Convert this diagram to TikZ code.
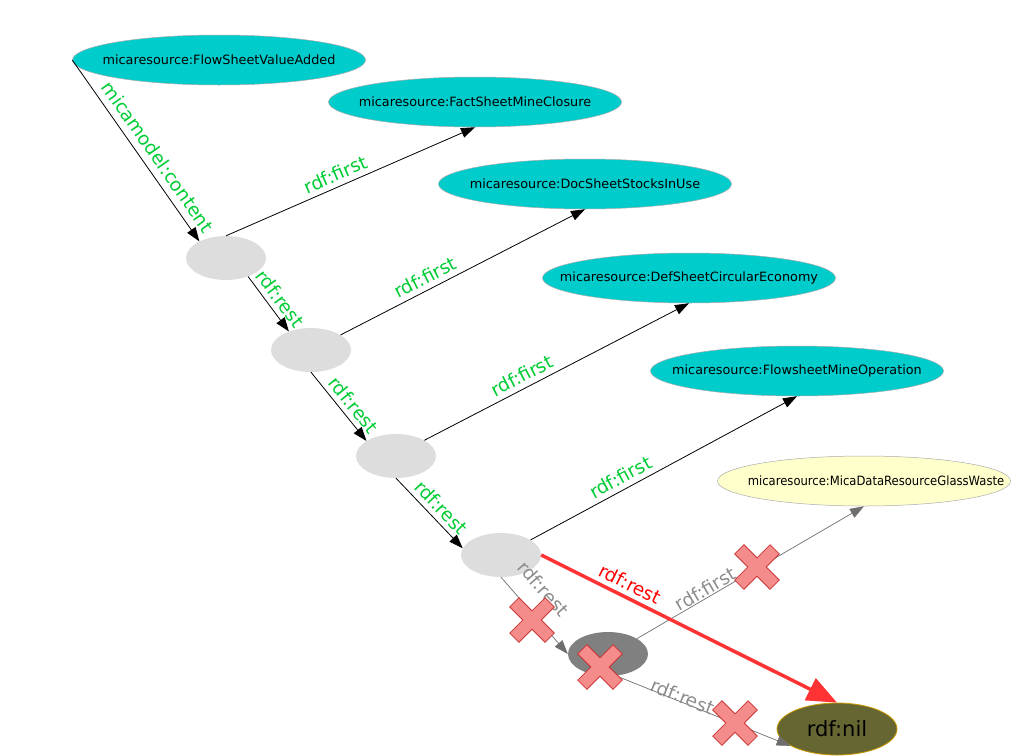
\documentclass[tikz,border=0pt]{standalone}
\usepackage{graphicx}
\usepackage{fontspec}
\setmainfont{DejaVu Sans}
\usetikzlibrary{arrows.meta,shapes.geometric}
\definecolor{tealc}{RGB}{0,204,204}
\definecolor{lgray}{RGB}{221,221,221}
\definecolor{dgray}{RGB}{128,128,128}
\definecolor{lyellow}{RGB}{255,255,204}
\definecolor{olivec}{RGB}{102,102,51}
\definecolor{goldc}{RGB}{204,153,0}
\definecolor{greenc}{RGB}{0,204,51}
\definecolor{grayc}{RGB}{110,110,110}
\definecolor{graytext}{RGB}{140,140,140}
\definecolor{redline}{RGB}{255,51,51}
\definecolor{crossfill}{RGB}{244,140,140}
\definecolor{crossdraw}{RGB}{204,51,51}
\newcommand{\zb}[1]{\makebox[0pt]{#1}}
\begin{document}
\begin{tikzpicture}[x=1pt,y=-1pt,
  every node/.style={font=\fontsize{12.8}{15}\selectfont},
  res/.style={ellipse, draw={rgb,255:red,170;green,170;blue,170}, line width=0.5pt, fill=tealc,
    minimum width=293pt, minimum height=50pt, inner sep=0pt},
  blank/.style={ellipse, fill=lgray, minimum width=80pt, minimum height=44pt, inner sep=0pt},
  lbl/.style={font=\fontsize{18.5}{22}\selectfont, sloped, above, inner sep=5pt},
  glbl/.style={lbl, text=greenc},
  rlbl/.style={lbl, text=red},
  ylbl/.style={lbl, text=graytext},
  edge/.style={draw=black, line width=0.8pt, -{Triangle[length=14pt,width=10pt]}},
  gedge/.style={draw=grayc, line width=0.7pt, -{Triangle[length=14pt,width=10pt]}},
  redge/.style={draw=redline, line width=3.5pt, -{Triangle[length=30pt,width=24pt]}},
  xcross/.pic={\filldraw[fill=crossfill, draw=crossdraw, line width=0.8pt, rotate=45]
    (6.5,6.5) -- (25,6.5) -- (25,-6.5) -- (6.5,-6.5) -- (6.5,-25) -- (-6.5,-25) -- (-6.5,-6.5) -- (-25,-6.5)
    -- (-25,6.5) -- (-6.5,6.5) -- (-6.5,25) -- (6.5,25) -- cycle;}
]
\useasboundingbox (0,0) rectangle (1014,755);

\node[res] (A) at (219,60) {\zb{micaresource:FlowSheetValueAdded}};
\node[res] (B) at (475,102) {\zb{micaresource:FactSheetMineClosure}};
\node[res] (C) at (585,184) {\zb{micaresource:DocSheetStocksInUse}};
\node[res] (D) at (689,278) {\zb{micaresource:DefSheetCircularEconomy}};
\node[res] (E) at (797,371) {\zb{micaresource:FlowsheetMineOperation}};
\node[res, fill=lyellow] (F) at (864,481) {\zb{\hspace{24pt}\scalebox{0.905}[1]{micaresource:MicaDataResourceGlassWaste}}};

\node[blank] (L1) at (226,258) {};
\node[blank] (L2) at (311,350) {};
\node[blank] (L3) at (396,456) {};
\node[blank] (L4) at (501,555) {};
\node[blank, fill=dgray] (L5) at (608,654) {};

\node[ellipse, fill=olivec, draw=goldc, line width=0.8pt, minimum width=120pt, minimum height=52pt,
  inner sep=0pt, font=\fontsize{21}{24}\selectfont] (nil) at (837,729) {\zb{rdf:nil}};

\draw[edge] (A.west) -- node[glbl, pos=0.58, inner sep=7pt] (t1) {micamodel:content} (L1.148);
\draw[edge] (L1.north) -- node[glbl, pos=0.46] (t2) {rdf:first} (B.south);
\draw[edge] (L1.-40) -- node[glbl, pos=0.54] (t3) {rdf:rest} (L2.140);
\draw[edge] (L2.27) -- node[glbl, pos=0.37] (t4) {rdf:first} (C.south);
\draw[edge] (L2.south) -- node[glbl, pos=0.59] (t5) {rdf:rest} (L3.153);
\draw[edge] (L3.29) -- node[glbl, pos=0.39] (t6) {rdf:first} (D.south);
\draw[edge] (L3.south) -- node[glbl, pos=0.54] (t7) {rdf:rest} (L4.170);
\draw[edge] (L4.27) -- node[glbl, pos=0.36] (t8) {rdf:first} (E.south);

\draw[gedge] (L4.south) -- node[ylbl, pos=0.36, inner sep=17pt] (t10) {rdf:rest} (L5.west);
\draw[gedge] (L5.28) -- node[ylbl, pos=0.32, inner sep=1pt] (t11) {rdf:first} (F.south);
\draw[gedge] (L5.-70) -- node[ylbl, pos=0.37, inner sep=-2pt] (t12) {rdf:rest} (nil.200);
\draw[redge] (L4.east) -- node[rlbl, pos=0.28] (t9) {rdf:rest} (nil.north);

\pic at (532,620) {xcross};
\pic at (600,667) {xcross};
\pic at (757,567) {xcross};
\pic at (735,723) {xcross};
\end{tikzpicture}
\end{document}
